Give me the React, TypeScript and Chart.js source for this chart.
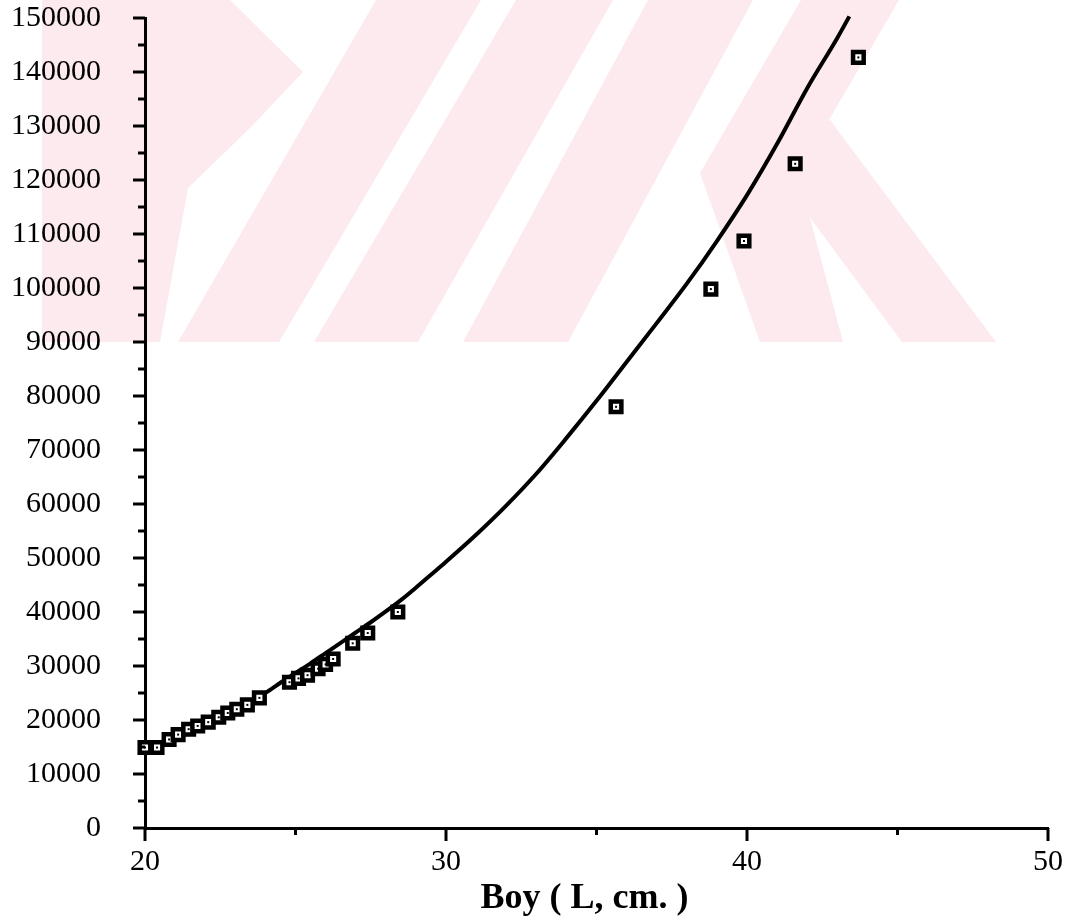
import React, { useEffect, useRef } from 'react';
import { Chart, registerables } from 'chart.js';

Chart.register(...registerables);

// Fitted curve
const curveX = [20.0, 20.5, 21.0, 21.5, 22.0, 22.5, 23.0, 23.5, 24.0, 24.5, 25.0, 25.5, 26.0, 26.5, 27.0, 27.5, 28.0, 28.5, 29.0, 29.5, 30.0, 31.0, 32.0, 33.0, 34.0, 35.0, 36.0, 37.0, 38.0, 39.0, 40.0, 41.0, 42.0, 43.0, 43.4];
const curveY = [14900, 15300, 16500, 17700, 19000, 20500, 22000, 23500, 25000, 26900, 28700, 30500, 32400, 34300, 36200, 38100, 40100, 42200, 44500, 46900, 49300, 54300, 59700, 65600, 72200, 79100, 86300, 93500, 100800, 108700, 117200, 126700, 137000, 146300, 150300];

// Observed values (squares)
const obsX = [20.0, 20.4, 20.8, 21.1, 21.45, 21.75, 22.1, 22.45, 22.75, 23.05, 23.4, 23.8, 24.8, 25.1, 25.4, 25.75, 26.0, 26.25, 26.9, 27.4, 28.4, 35.65, 38.8, 39.9, 41.6, 43.7];
const obsY = [14900, 14900, 16400, 17300, 18300, 18900, 19600, 20500, 21300, 22000, 22800, 24100, 27000, 27700, 28300, 29500, 30300, 31300, 34200, 36100, 40000, 78000, 99800, 108700, 123000, 142700];

const xMin = 20;
const xMax = 50;
const xStep = 5;
const xLabelEvery = 10;
const yMin = 0;
const yMax = 150000;
const yStep = 5000;
const yLabelEvery = 10000;
const xTitle = 'Boy ( L, cm. )';

const FONT = '"Liberation Serif", "DejaVu Serif", serif';

export default function App() {
  const ref = useRef<HTMLCanvasElement | null>(null);

  useEffect(() => {
    if (!ref.current) return;
    const obs = obsX.map((x, i) => ({ x, y: obsY[i] }));
    const curve = curveX.map((x, i) => ({ x, y: curveY[i] }));

    const decor = {
      id: 'decor',
      beforeDraw(chart: any) {
        const ctx = chart.ctx;
        ctx.save();
        ctx.fillStyle = '#ffffff';
        ctx.fillRect(0, 0, chart.width, chart.height);
        ctx.fillStyle = '#fdeaee';
        const polys: number[][][] = [
          [[42, 0], [230, 0], [303, 72], [251, 127], [188, 188], [160, 342], [42, 342]],
          [[376, 0], [481, 0], [279, 342], [178, 342]],
          [[516, 0], [613, 0], [418, 342], [314, 342]],
          [[648, 0], [753, 0], [568, 342], [463, 342]],
          [[801, 0], [899, 0], [798, 173], [843, 342], [760, 342], [700, 173]],
          [[760, 150], [830, 120], [996, 342], [902, 342]],
        ];
        for (const p of polys) {
          ctx.beginPath();
          ctx.moveTo(p[0][0], p[0][1]);
          for (let i = 1; i < p.length; i++) ctx.lineTo(p[i][0], p[i][1]);
          ctx.closePath();
          ctx.fill();
        }
        ctx.restore();
      },
      afterDraw(chart: any) {
        const ctx = chart.ctx;
        const xs = chart.scales.x;
        const ys = chart.scales.y;
        const area = chart.chartArea;
        ctx.save();
        ctx.strokeStyle = '#000';
        ctx.lineWidth = 3;
        ctx.lineCap = 'butt';
        for (const t of ys.ticks) {
          const v = t.value;
          const py = ys.getPixelForValue(v);
          const len = v % yLabelEvery === 0 ? 12 : 7;
          ctx.beginPath();
          ctx.moveTo(area.left - len, py);
          ctx.lineTo(area.left, py);
          ctx.stroke();
        }
        for (const t of xs.ticks) {
          const v = t.value;
          const px = xs.getPixelForValue(v);
          const len = v % xLabelEvery === 0 ? 13 : 7;
          ctx.beginPath();
          ctx.moveTo(px, area.bottom);
          ctx.lineTo(px, area.bottom + len);
          ctx.stroke();
        }
        ctx.fillStyle = '#000';
        ctx.font = 'bold 36px ' + FONT;
        ctx.textAlign = 'center';
        ctx.textBaseline = 'alphabetic';
        ctx.fillText(xTitle, (area.left + area.right) / 2 - 12, 908);
        ctx.restore();
      },
    };

    const chart = new Chart(ref.current, {
      type: 'scatter',
      data: {
        datasets: [
          {
            label: 'dots',
            data: obs,
            pointStyle: 'rect',
            pointRadius: 1.4,
            backgroundColor: '#000',
            borderColor: '#000',
            borderWidth: 0,
            clip: false,
          } as any,
          {
            label: 'observed',
            data: obs,
            pointStyle: 'rect',
            pointRadius: 7.5,
            backgroundColor: '#ffffff',
            borderColor: '#000',
            borderWidth: 4.5,
            clip: false,
          } as any,
          {
            label: 'curve',
            data: curve,
            showLine: true,
            pointRadius: 0,
            borderColor: '#000',
            borderWidth: 4,
            tension: 0.3,
            cubicInterpolationMode: 'monotone',
            clip: false,
          } as any,
        ],
      },
      options: {
        responsive: false,
        animation: false,
        layout: { padding: { top: 18, right: 32, left: 0, bottom: 0 } },
        plugins: { legend: { display: false }, tooltip: { enabled: false } },
        scales: {
          x: {
            type: 'linear',
            min: xMin,
            max: xMax,
            afterFit(s: any) { s.height = 89; s.paddingLeft = 0; },
            grid: { display: true, drawOnChartArea: false, drawTicks: false },
            border: { display: true, width: 3, color: '#000' },
            ticks: {
              stepSize: xStep,
              autoSkip: false,
              maxRotation: 0,
              padding: 16,
              color: '#000',
              font: { family: FONT, size: 30 },
              callback: (v: any) => (Number(v) % xLabelEvery === 0 ? String(v) : ''),
            },
          },
          y: {
            type: 'linear',
            min: yMin,
            max: yMax,
            afterFit(s: any) { s.width = 145; s.paddingTop = 0; s.paddingBottom = 0; },
            grid: { display: true, drawOnChartArea: false, drawTicks: false },
            border: { display: true, width: 3, color: '#000' },
            ticks: {
              stepSize: yStep,
              autoSkip: false,
              padding: 44,
              color: '#000',
              font: { family: FONT, size: 30 },
              callback: (v: any) => (Number(v) % yLabelEvery === 0 ? String(v) : ''),
            },
          },
        },
      },
      plugins: [decor],
    } as any);

    return () => chart.destroy();
  }, []);

  return (
    <div style={{ position: 'absolute', left: 0, top: 0, width: 1080, height: 917 }}>
      <canvas ref={ref} width={1080} height={917} style={{ display: 'block', width: 1080, height: 917 }} />
    </div>
  );
}
